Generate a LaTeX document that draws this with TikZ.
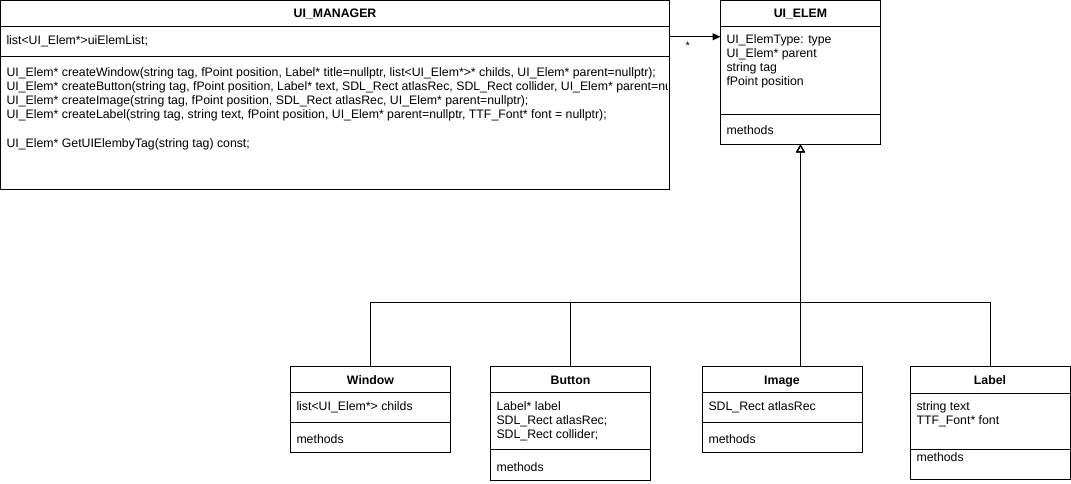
\documentclass[tikz,border=0pt]{standalone}
\usepackage{fontspec}
\setmainfont{Liberation Sans}
\usetikzlibrary{arrows.meta}
\begin{document}
\begin{tikzpicture}[x=1pt,y=-1pt, line width=1pt,
  box/.style={draw, inner sep=0pt, outer sep=0pt, anchor=north west},
  txt/.style={anchor=base west, inner sep=0pt, font=\fontsize{12.3}{14}\selectfont},
  hdr/.style={anchor=base, inner sep=0pt, font=\fontsize{12.3}{14}\selectfont\bfseries},
  assoc/.style={-{Triangle[length=8pt,width=7pt]}},
  inherit/.style={-{Triangle[open,length=8pt,width=9pt]}}]
\useasboundingbox (0,0) rectangle (1071,484);

% UI_MANAGER
\node[box, minimum width=669pt, minimum height=189pt] (mgr) at (0.5,0.5) {};
\draw ([yshift=-26pt]mgr.north west) -- ([yshift=-26pt]mgr.north east);
\draw ([yshift=-56pt]mgr.north west) -- ([yshift=-56pt]mgr.north east);
\node[hdr] (mgrT) at (335,17.5) {UI\_MANAGER};
\node[txt] (mgrA) at (6,44.5) {list<UI\_Elem*>uiElemList;};
\begin{scope}
\clip (0,0) rectangle (667,189);
\node[txt] (mgrM1) at (6,77) {UI\_Elem* createWindow(string tag, fPoint position, Label* title=nullptr, list<UI\_Elem*>* childs, UI\_Elem* parent=nullptr);};
\node[txt] (mgrM2) at (6,91) {UI\_Elem* createButton(string tag, fPoint position, Label* text, SDL\_Rect atlasRec, SDL\_Rect collider, UI\_Elem* parent=nullptr);};
\node[txt] (mgrM3) at (6,105) {UI\_Elem* createImage(string tag, fPoint position, SDL\_Rect atlasRec, UI\_Elem* parent=nullptr);};
\node[txt] (mgrM4) at (6,119) {UI\_Elem* createLabel(string tag, string text, fPoint position, UI\_Elem* parent=nullptr, TTF\_Font* font = nullptr);};
\node[txt] (mgrM5) at (6,147) {UI\_Elem* GetUIElembyTag(string tag) const;};
\end{scope}

% UI_ELEM
\node[box, minimum width=160pt, minimum height=144pt] (elem) at (720.5,0.5) {};
\draw ([yshift=-26pt]elem.north west) -- ([yshift=-26pt]elem.north east);
\draw ([yshift=-114pt]elem.north west) -- ([yshift=-114pt]elem.north east);
\node[hdr] (elemT) at (800.5,17.5) {UI\_ELEM};
\node[txt] (elemA1) at (726,44) {UI\_ElemType: type};
\node[txt] (elemA2) at (726,58) {UI\_Elem* parent};
\node[txt] (elemA3) at (726,72) {string tag};
\node[txt] (elemA4) at (726,86) {fPoint position};
\node[txt] (elemM) at (726,135) {methods};

% association
\draw[assoc] (mgr.east |- mgrA) ++(0,-4.5) coordinate (as) -- (elem.west |- as);
\node[txt, font=\fontsize{11}{12}\selectfont] (star) at (685,50) {*};

% Window
\node[box, minimum width=160pt, minimum height=86pt] (win) at (290.5,366) {};
\draw ([yshift=-26pt]win.north west) -- ([yshift=-26pt]win.north east);
\draw ([yshift=-56pt]win.north west) -- ([yshift=-56pt]win.north east);
\node[hdr] (winT) at (370.5,384) {Window};
\node[txt] (winA) at (296,410) {list<UI\_Elem*> childs};
\node[txt] (winM) at (296,443) {methods};

% Button
\node[box, minimum width=160pt, minimum height=114pt] (btn) at (490.5,366) {};
\draw ([yshift=-26pt]btn.north west) -- ([yshift=-26pt]btn.north east);
\draw ([yshift=-83pt]btn.north west) -- ([yshift=-83pt]btn.north east);
\node[hdr] (btnT) at (570.5,384) {Button};
\node[txt] (btnA1) at (496,410) {Label* label};
\node[txt] (btnA2) at (496,424) {SDL\_Rect atlasRec;};
\node[txt] (btnA3) at (496,438) {SDL\_Rect collider;};
\node[txt] (btnM) at (496,471) {methods};

% Image
\node[box, minimum width=160pt, minimum height=86pt] (img) at (702,366.5) {};
\draw ([yshift=-26pt]img.north west) -- ([yshift=-26pt]img.north east);
\draw ([yshift=-56pt]img.north west) -- ([yshift=-56pt]img.north east);
\node[hdr] (imgT) at (782,384) {Image};
\node[txt] (imgA) at (708,410) {SDL\_Rect atlasRec};
\node[txt] (imgM) at (708,443) {methods};

% Label
\node[box, minimum width=160pt, minimum height=113pt] (lbl) at (910,366) {};
\draw ([yshift=-27pt]lbl.north west) -- ([yshift=-27pt]lbl.north east);
\draw ([yshift=-83pt]lbl.north west) -- ([yshift=-83pt]lbl.north east);
\node[hdr] (lblT) at (990,384) {Label};
\node[txt] (lblA1) at (916,410) {string text};
\node[txt] (lblA2) at (916,424) {TTF\_Font* font};
\node[txt] (lblM) at (916,461) {methods};

% inheritance
\coordinate (bus) at (800.5,302.5);
\draw[inherit] (win.north) |- (bus) -- (elem.south);
\draw[inherit] (btn.north) |- (bus) -- (elem.south);
\draw[inherit] (bus |- img.north) -- (elem.south);
\draw[inherit] (lbl.north) |- (bus) -- (elem.south);
\end{tikzpicture}
\end{document}
